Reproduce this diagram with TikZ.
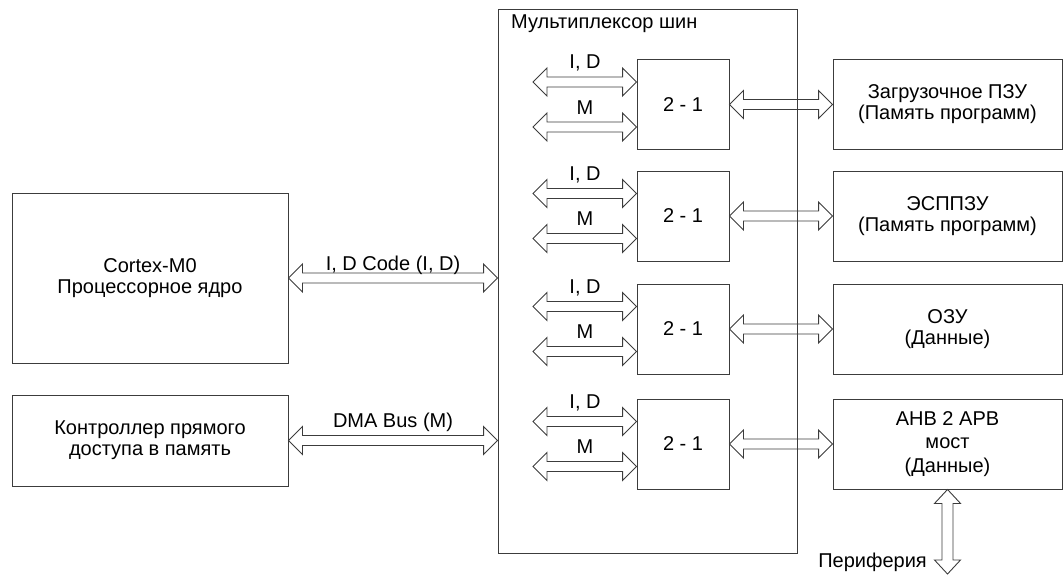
\documentclass[tikz,border=0pt]{standalone}
\usepackage{fontspec}
\setmainfont{Liberation Sans}
\usetikzlibrary{calc}
\definecolor{linec}{RGB}{60,60,60}
\newcommand\txt{\fontsize{20}{21}\selectfont}
\tikzset{
  blk/.style={draw=linec, line width=0.9pt, inner sep=0pt, align=center, font=\txt},
  bus/.style={draw=linec, line width=0.9pt, line join=miter},
  lbl/.style={font=\txt, inner sep=0pt},
}
\newcommand\hbus[2]{\draw[bus] let \p1=(#1), \p2=(#2) in
  (\x1,\y1) -- (\x1+14pt,\y1+14pt) -- (\x1+14pt,\y1+5pt) -- (\x2-14pt,\y1+5pt) --
  (\x2-14pt,\y1+14pt) -- (\x2,\y1) -- (\x2-14pt,\y1-14pt) -- (\x2-14pt,\y1-5pt) --
  (\x1+14pt,\y1-5pt) -- (\x1+14pt,\y1-14pt) -- cycle;}
\newcommand\vbus[2]{\draw[bus] let \p1=(#1), \p2=(#2) in
  (\x1,\y1) -- (\x1+13pt,\y1-14pt) -- (\x1+5.5pt,\y1-14pt) -- (\x1+5.5pt,\y2+14pt) --
  (\x1+13pt,\y2+14pt) -- (\x1,\y2) -- (\x1-13pt,\y2+14pt) -- (\x1-5.5pt,\y2+14pt) --
  (\x1-5.5pt,\y1-14pt) -- (\x1-13pt,\y1-14pt) -- cycle;}
\begin{document}
\begin{tikzpicture}[x=1pt, y=-1pt]
\useasboundingbox (0,0) rectangle (1064,575);
% left blocks
\node[blk, minimum width=276pt, minimum height=170pt] (cpu) at (150,278) {Cortex-M0\\Процессорное ядро};
\node[blk, minimum width=276pt, minimum height=91pt] (dma) at (150,440.5) {Контроллер прямого\\доступа в память};
% multiplexer
\node[blk, minimum width=299pt, minimum height=544pt] (mux) at (647.5,281) {};
\node[lbl, anchor=base west] (title) at (511,29) {Мультиплексор шин};
% right blocks
\node[blk, minimum width=229pt, minimum height=90pt] (r1) at (947.5,104.5) {Загрузочное ПЗУ\\(Память программ)};
\node[blk, minimum width=229pt, minimum height=90pt] (r2) at (947.5,216) {ЭСППЗУ\\(Память программ)};
\node[blk, minimum width=229pt, minimum height=90pt] (r3) at (947.5,329) {ОЗУ\\(Данные)};
\node[blk, minimum width=229pt, minimum height=90pt, font=\fontsize{20}{23.5}\selectfont] (r4) at (947.5,444) {AHB 2 APB\\мост\\(Данные)};
% 2-1 switches
\foreach \i/\yc in {1/104.5, 2/216, 3/329, 4/444}{
  \node[blk, minimum width=92pt, minimum height=90pt] (m\i) at (683,\yc) {2 - 1};
  \coordinate (ci\i) at (533,\yc-22.5);
  \coordinate (cm\i) at (533,\yc+22.5);
  \hbus{ci\i}{m\i.west |- ci\i}
  \hbus{cm\i}{m\i.west |- cm\i}
  \node[lbl, anchor=base] (ti\i) at (585,\yc-35.5) {I, D};
  \node[lbl, anchor=base] (tm\i) at (585,\yc+9.5) {M};
  \hbus{m\i.east}{r\i.west}
}
% main buses
\hbus{cpu.east}{mux.west |- cpu.east}
\node[lbl, anchor=base] (tcode) at (393,270) {I, D Code (I, D)};
\hbus{dma.east}{mux.west |- dma.east}
\node[lbl, anchor=base] (tdma) at (393,427) {DMA Bus (M)};
% peripheral bus
\coordinate (per) at (947.5,574);
\vbus{r4.south}{per}
\node[lbl, anchor=base east] (tper) at (927,567) {Периферия};
\end{tikzpicture}
\end{document}
